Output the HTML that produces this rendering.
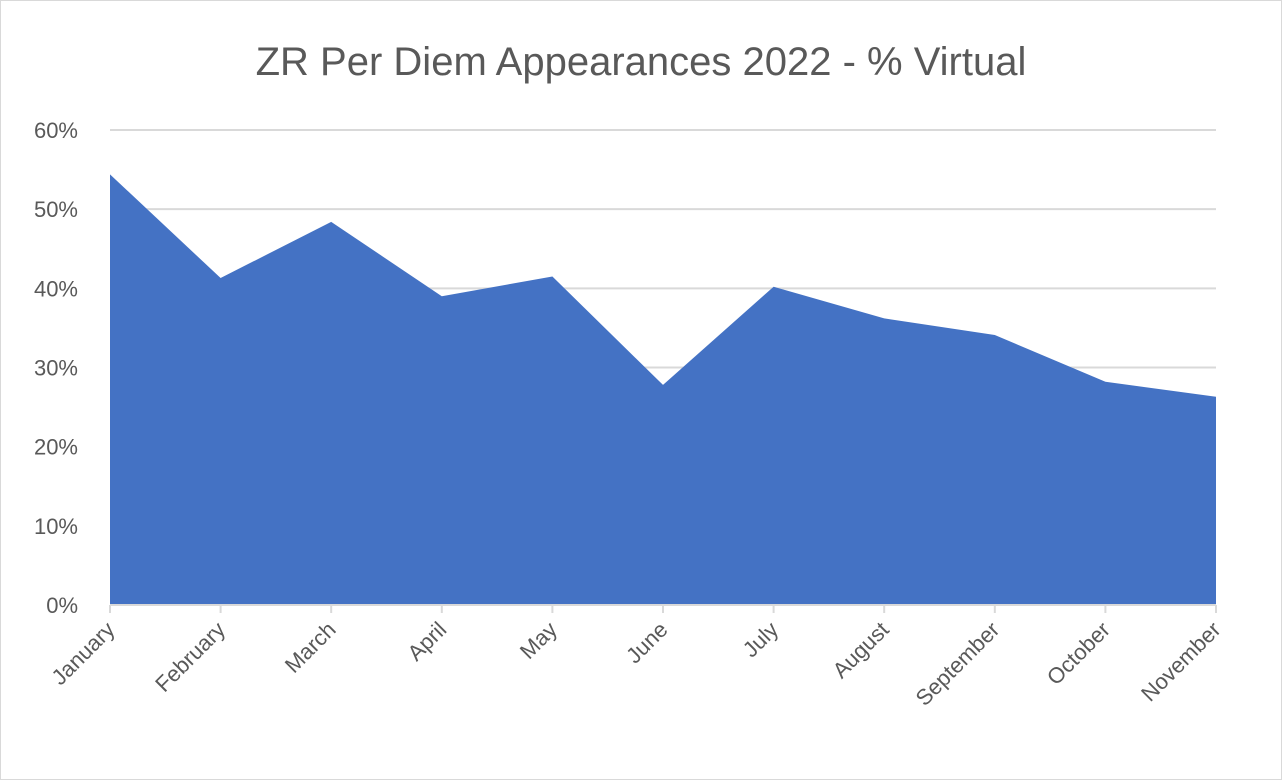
<!DOCTYPE html>
<html><head><meta charset="utf-8"><style>
body{margin:0;background:#fff;}
svg{display:block;font-family:"Liberation Sans",Calibri,sans-serif;}
</style></head><body>
<svg id="chart" width="1282" height="780" viewBox="0 0 1282 780" xmlns="http://www.w3.org/2000/svg">
<rect x="0.5" y="0.5" width="1281" height="779" fill="#fff" stroke="#d9d9d9"/>
<text x="641" y="75" text-anchor="middle" font-size="40" fill="#595959">ZR Per Diem Appearances 2022 - % Virtual</text>
<g id="grid"></g><g id="area"></g><g id="xaxis"></g><g id="yaxis"></g>
</svg>
<script>
const categories=["January","February","March","April","May","June","July","August","September","October","November"];
const values=[54.4,41.3,48.4,39.0,41.5,27.8,40.2,36.2,34.1,28.2,26.3];
const yTicks=[0,10,20,30,40,50,60];
const x0=110,x1=1216,y0=605,y1=130,yMax=60;
const xs=i=>x0+(x1-x0)*i/(categories.length-1);
const ys=v=>y0-(y0-y1)*v/yMax;
const NS="http://www.w3.org/2000/svg";
function mk(t,a,p){const e=document.createElementNS(NS,t);for(const k in a)e.setAttribute(k,a[k]);p.appendChild(e);return e;}
const grid=document.getElementById('grid'),yax=document.getElementById('yaxis'),xax=document.getElementById('xaxis'),area=document.getElementById('area');
yTicks.forEach(t=>{
 const l=mk('line',{x1:x0,x2:x1,y1:ys(t),y2:ys(t),stroke:'#d9d9d9','stroke-width':2},grid);
 
 
 const tx=mk('text',{x:78,y:ys(t)+8,'text-anchor':'end','font-size':22,fill:'#595959'},yax);
 tx.textContent=t+'%';
 
 
});
let d='M'+xs(0)+','+ys(0);
values.forEach((v,i)=>{d+=' L'+xs(i)+','+ys(v);});
d+=' L'+xs(values.length-1)+','+ys(0)+' Z';
const p=mk('path',{d:d,fill:'#4472C4'},area);


const ax=mk('line',{x1:x0,x2:x1,y1:y0,y2:y0,stroke:'#d9d9d9','stroke-width':2},xax);


categories.forEach((c,i)=>{
 const tk=mk('line',{x1:xs(i),x2:xs(i),y1:y0,y2:y0+8,stroke:'#d9d9d9','stroke-width':2},xax);
 
 
 const x=xs(i)+6,y=y0+26;
 const tx=mk('text',{x:x,y:y,'text-anchor':'end','font-size':22,fill:'#595959',transform:'rotate(-45 '+x+' '+y+')'},xax);
 tx.textContent=c;
 
 
});
</script>
</body></html>
